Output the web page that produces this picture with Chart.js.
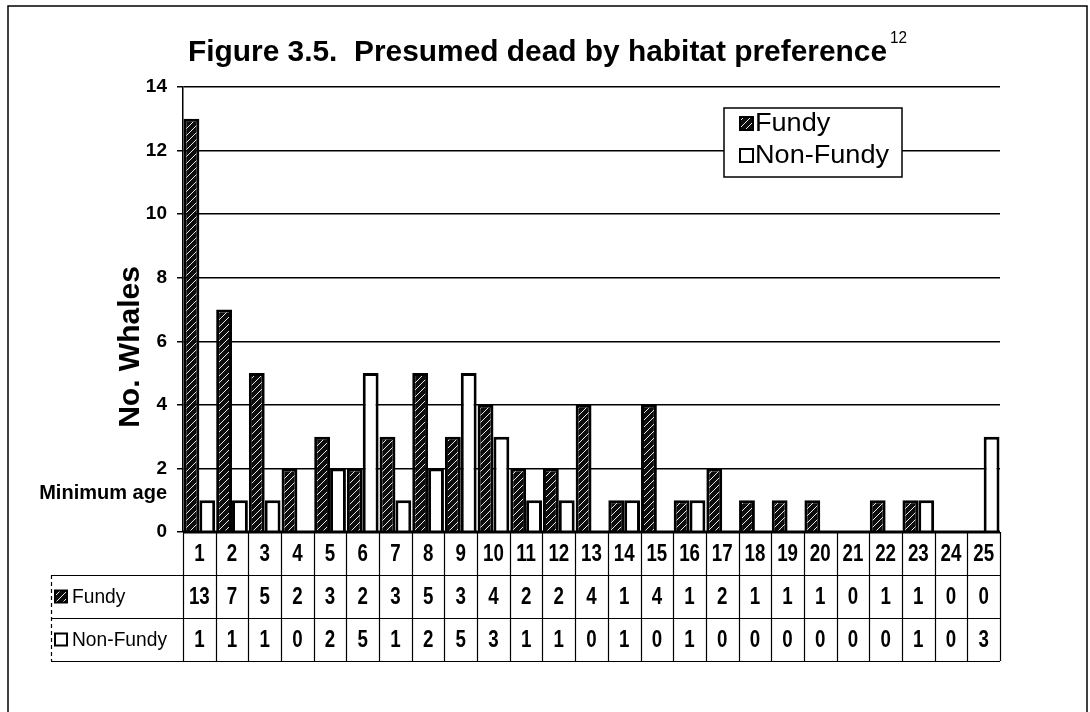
<!DOCTYPE html>
<html>
<head>
<meta charset="utf-8">
<script src="https://cdn.jsdelivr.net/npm/chart.js@4.4.0/dist/chart.umd.min.js"></script>
<style>
  html, body { margin: 0; padding: 0; background: #fff; }
  canvas { display: block; }
</style>
</head>
<body>
<canvas id="myChart" width="1090" height="712"></canvas>
<script>
// data
const ages = ['1','2','3','4','5','6','7','8','9','10','11','12','13','14','15','16','17','18','19','20','21','22','23','24','25'];
const fundy = [13,7,5,2,3,2,3,5,3,4,2,2,4,1,4,1,2,1,1,1,0,1,1,0,0];
const nonFundy = [1,1,1,0,2,5,1,2,5,3,1,1,0,1,0,1,0,0,0,0,0,0,1,0,3];
const yTicks = [0,2,4,6,8,10,12,14];
const seriesNames = ['Fundy','Non-Fundy'];
const chartTitle = 'Figure 3.5.  Presumed dead by habitat preference';
const titleNote = '12';
const yTitle = 'No. Whales';
const xTitle = 'Minimum age';

const FONT = "'Liberation Sans', Arial, sans-serif";
let ctx = document.getElementById('myChart');
let g0 = ctx.getContext('2d');

// hatched fill for the Fundy bars
function hatch() {
  let c = document.createElement('canvas');
  c.width = 7; c.height = 7;
  let g = c.getContext('2d');
  g.fillStyle = '#0d0d0d';
  g.fillRect(0, 0, 7, 7);
  g.strokeStyle = '#e8e8e8';
  g.lineWidth = 1;
  g.beginPath();
  g.moveTo(0, 7); g.lineTo(7, 0);
  g.moveTo(-1, 1); g.lineTo(1, -1);
  g.moveTo(6, 8); g.lineTo(8, 6);
  g.stroke();
  return g0.createPattern(c, 'repeat');
}
const fundyFill = hatch();

function txt(g, s, x, y, font, align, sx) {
  g.save();
  g.font = font;
  g.textBaseline = 'middle';
  g.textAlign = align;
  g.translate(x, y);
  g.scale(sx, 1);
  g.fillStyle = '#000';
  g.fillText(s, 0, 0);
  g.restore();
}
function fitScale(g, s, font, w) {
  g.save(); g.font = font;
  let m = g.measureText(s).width;
  g.restore();
  return w / m;
}
function icon(g, x, y, size, fill) {
  g.save();
  g.fillStyle = fill;
  g.fillRect(x, y, size, size);
  g.strokeStyle = '#000';
  g.lineWidth = 2;
  g.strokeRect(x, y, size, size);
  g.restore();
}

const decor = {
  id: 'decor',
  afterDatasetsDraw(chart) {
    let g = chart.ctx;
    let a = chart.chartArea;
    // thick baseline
    g.save();
    g.strokeStyle = '#000';
    g.lineWidth = 3;
    g.beginPath(); g.moveTo(a.left, a.bottom); g.lineTo(a.right, a.bottom); g.stroke();
    g.restore();
  },
  afterDraw(chart) {
    let g = chart.ctx;
    let a = chart.chartArea;
    let xs = chart.scales.x;

    // outer frame
    g.save();
    g.strokeStyle = '#000';
    g.lineWidth = 1.5;
    g.strokeRect(8, 6, 1079, 720);
    g.restore();

    // title
    let tf = 'bold 29px ' + FONT;
    let tsx = fitScale(g, chartTitle, tf, 699);
    txt(g, chartTitle, 188, 53, tf, 'left', tsx);
    txt(g, titleNote, 890, 38, '17px ' + FONT, 'left', 0.9);

    // y title
    g.save();
    g.translate(131, 347);
    g.rotate(-Math.PI / 2);
    txt(g, yTitle, 0, 0, 'bold 30px ' + FONT, 'center', 1);
    g.restore();

    txt(g, xTitle, 167, 493, 'bold 20px ' + FONT, 'right', 1);

    // legend box
    g.save();
    g.fillStyle = '#fff';
    g.fillRect(724, 108, 178, 69);
    g.strokeStyle = '#000';
    g.lineWidth = 1.5;
    g.strokeRect(724, 108, 178, 69);
    g.restore();
    let lf = '25px ' + FONT;
    let lsx = fitScale(g, seriesNames[1], lf, 134);
    icon(g, 740, 117, 13, fundyFill);
    icon(g, 740, 149, 13, '#fff');
    txt(g, seriesNames[0], 755, 124, lf, 'left', lsx);
    txt(g, seriesNames[1], 755, 156, lf, 'left', lsx);

    // data table
    let rows = [532, 575, 618, 661];
    let step = (a.right - a.left) / ages.length;
    g.save();
    g.strokeStyle = '#000';
    g.lineWidth = 1.2;
    g.beginPath();
    for (let i = 0; i <= ages.length; i++) {
      let x = Math.round(a.left + i * step) + 0.5;
      g.moveTo(x, rows[0]); g.lineTo(x, rows[3]);
    }
    for (let r = 1; r < 4; r++) {
      g.moveTo(51, rows[r] + 0.5); g.lineTo(a.right, rows[r] + 0.5);
    }
    g.stroke();
    g.setLineDash([4, 3]);
    g.beginPath();
    g.moveTo(51.5, rows[1]); g.lineTo(51.5, rows[3]);
    g.stroke();
    g.restore();

    let nf = 'bold 24px ' + FONT;
    ages.forEach((lab, i) => {
      let cx = xs.getPixelForValue(i);
      txt(g, lab, cx, (rows[0] + rows[1]) / 2 + 1, nf, 'center', 0.78);
      txt(g, String(fundy[i]), cx, (rows[1] + rows[2]) / 2 + 1, nf, 'center', 0.78);
      txt(g, String(nonFundy[i]), cx, (rows[2] + rows[3]) / 2 + 1, nf, 'center', 0.78);
    });
    let rf = '21px ' + FONT;
    let rsx = fitScale(g, seriesNames[1], rf, 95);
    icon(g, 55, (rows[1] + rows[2]) / 2 - 6, 12, fundyFill);
    icon(g, 55, (rows[2] + rows[3]) / 2 - 6, 12, '#fff');
    txt(g, seriesNames[0], 72, (rows[1] + rows[2]) / 2 + 1, rf, 'left', rsx);
    txt(g, seriesNames[1], 72, (rows[2] + rows[3]) / 2 + 1, rf, 'left', rsx);
  }
};

let myChart = new Chart(ctx, {
  type: 'bar',
  data: {
    labels: ages,
    datasets: [
      { label: seriesNames[0], data: fundy, backgroundColor: fundyFill, borderColor: '#000', borderWidth: 3, categoryPercentage: 0.97, barPercentage: 1 },
      { label: seriesNames[1], data: nonFundy, backgroundColor: '#fff', borderColor: '#000', borderWidth: 3, categoryPercentage: 0.97, barPercentage: 1 }
    ]
  },
  options: {
    responsive: false,
    animation: false,
    devicePixelRatio: 1,
    layout: { padding: { top: 87, right: 90, bottom: 180, left: 0 } },
    plugins: { legend: { display: false }, title: { display: false }, tooltip: { enabled: false } },
    scales: {
      x: { display: false, offset: true },
      y: {
        min: 0, max: 14,
        afterBuildTicks: s => { s.ticks = yTicks.map(v => ({ value: v })); },
        afterFit: s => { s.width = 183; },
        border: { color: '#000', width: 1.5 },
        grid: { color: '#000', lineWidth: 1.5, tickLength: 6, drawTicks: true },
        ticks: { color: '#000', padding: 10, font: { family: FONT, size: 19, weight: 'bold' } }
      }
    }
  },
  plugins: [decor]
});
</script>
</body>
</html>
